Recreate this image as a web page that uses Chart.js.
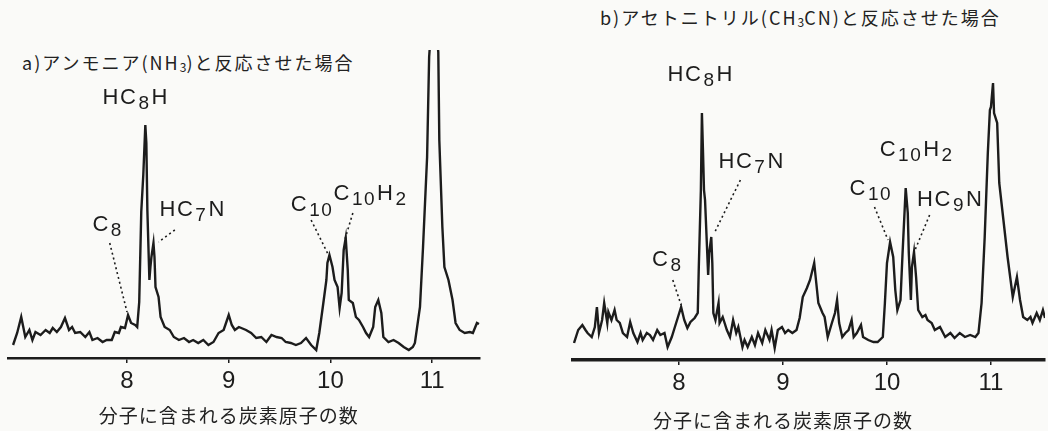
<!DOCTYPE html>
<html>
<head>
  <meta charset="utf-8">
  <title>炭素鎖分子のスペクトル</title>
  <script src="https://cdn.jsdelivr.net/npm/chart.js"></script>
  <style>
    body {
      margin: 0;
      background-color: #fafaf8;
      font-family: "Noto Sans CJK JP", sans-serif;
    }
    .page {
      position: relative;
      width: 1048px;
      height: 431px;
      overflow: hidden;
    }
    .panel {
      position: absolute;
      top: 50px;
      height: 381px;
    }
    .title {
      position: absolute;
      font-size: 18px;
      letter-spacing: 2px;
      color: #222;
      white-space: nowrap;
      line-height: 1;
    }
    .title sub { font-size: 12px; vertical-align: -2px; letter-spacing: 0; }
  </style>
</head>
<body>
<div class="page">
  <div class="title" style="left:22px; top:53px;">a)アンモニア(NH<sub>3</sub>)と反応させた場合</div>
  <div class="title" style="left:600px; top:8px;">b)アセトニトリル(CH<sub>3</sub>CN)と反応させた場合</div>
  <div class="panel" style="left:0; width:490px;"><canvas id="chartA"></canvas></div>
  <div class="panel" style="left:560px; width:488px;"><canvas id="chartB"></canvas></div>
</div>

<script>
// ----- data -----
const carbonTicks = [8, 9, 10, 11];
const axisTitle = "分子に含まれる炭素原子の数";

// a) ammonia
const carbonA = [
  6.88, 6.92, 6.96, 7.00, 7.04, 7.07, 7.10, 7.15, 7.20, 7.24,
  7.27, 7.31, 7.35, 7.39, 7.43, 7.46, 7.49, 7.54, 7.59, 7.63,
  7.66, 7.71, 7.76, 7.80, 7.85, 7.88, 7.92, 7.94, 7.98, 8.01,
  8.04, 8.08, 8.10, 8.12, 8.14, 8.16, 8.18, 8.19, 8.20, 8.22,
  8.23, 8.24, 8.26, 8.27, 8.28, 8.31, 8.33, 8.37, 8.42, 8.46,
  8.51, 8.56, 8.61, 8.65, 8.70, 8.75, 8.80, 8.85, 8.90, 8.95,
  9.00, 9.03, 9.06, 9.10, 9.17, 9.22, 9.27, 9.32, 9.37, 9.42,
  9.47, 9.52, 9.56, 9.61, 9.66, 9.71, 9.76, 9.81, 9.86, 9.89,
  9.93, 9.96, 9.97, 9.99, 10.02, 10.04, 10.07, 10.09, 10.11, 10.13,
  10.15, 10.17, 10.18, 10.22, 10.25, 10.28, 10.32, 10.35, 10.38, 10.42,
  10.44, 10.47, 10.50, 10.52, 10.57, 10.62, 10.67, 10.72, 10.77, 10.81,
  10.83, 10.88, 10.91, 10.95, 10.97, 11.01, 11.06, 11.07, 11.10, 11.12,
  11.16, 11.20, 11.23, 11.27, 11.32, 11.37, 11.40, 11.44, 11.46
];
const signalA = [
  13, 25, 41, 21, 28, 18, 26, 23, 28, 25,
  30, 26, 31, 40, 28, 31, 25, 26, 21, 26,
  18, 20, 16, 18, 18, 26, 25, 31, 30, 43,
  35, 33, 31, 56, 146, 183, 233, 215, 148, 78,
  91, 101, 115, 101, 71, 61, 41, 31, 28, 21,
  18, 20, 16, 18, 15, 18, 13, 16, 25, 28,
  43, 33, 28, 31, 28, 25, 20, 21, 16, 23,
  21, 20, 16, 15, 13, 15, 20, 13, 8, 25,
  55, 78, 95, 103, 91, 78, 71, 50, 65, 108,
  120, 88, 58, 55, 41, 38, 31, 25, 21, 31,
  51, 58, 45, 21, 16, 18, 15, 11, 8, 11,
  15, 51, 111, 201, 301, 360, 306, 218, 131, 91,
  78, 58, 35, 28, 25, 26, 25, 35, 34
];

// b) acetonitrile
const carbonB = [
  6.99, 7.03, 7.07, 7.10, 7.12, 7.16, 7.19, 7.21, 7.23, 7.26,
  7.28, 7.31, 7.32, 7.35, 7.38, 7.40, 7.43, 7.46, 7.50, 7.53,
  7.56, 7.60, 7.63, 7.65, 7.69, 7.72, 7.75, 7.79, 7.82, 7.86,
  7.89, 7.93, 7.96, 7.99, 8.02, 8.05, 8.08, 8.11, 8.15, 8.18,
  8.19, 8.21, 8.22, 8.23, 8.24, 8.25, 8.27, 8.28, 8.29, 8.31,
  8.32, 8.33, 8.35, 8.38, 8.39, 8.42, 8.46, 8.49, 8.52, 8.55,
  8.57, 8.61, 8.63, 8.66, 8.70, 8.73, 8.76, 8.80, 8.83, 8.87,
  8.89, 8.92, 8.95, 8.99, 9.02, 9.05, 9.09, 9.13, 9.16, 9.19,
  9.23, 9.26, 9.30, 9.32, 9.34, 9.38, 9.40, 9.43, 9.47, 9.50,
  9.52, 9.54, 9.57, 9.60, 9.63, 9.66, 9.68, 9.71, 9.75, 9.77,
  9.82, 9.87, 9.91, 9.96, 9.98, 10.00, 10.03, 10.06, 10.08, 10.10,
  10.13, 10.15, 10.17, 10.18, 10.20, 10.21, 10.23, 10.24, 10.26, 10.28,
  10.30, 10.34, 10.37, 10.39, 10.43, 10.46, 10.51, 10.56, 10.61, 10.65,
  10.70, 10.75, 10.80, 10.85, 10.88, 10.91, 10.94, 10.97, 10.99, 11.00,
  11.02, 11.03, 11.06, 11.08, 11.12, 11.16, 11.21, 11.25, 11.28, 11.31,
  11.35, 11.38, 11.40, 11.44, 11.47, 11.50, 11.52
];
const signalB = [
  17, 30, 35, 30, 27, 23, 33, 53, 27, 40,
  57, 37, 48, 40, 50, 40, 37, 27, 23, 38,
  27, 18, 27, 20, 27, 25, 20, 30, 25, 27,
  13, 23, 33, 43, 53, 40, 32, 38, 42, 47,
  93, 170, 247, 210, 170, 160, 110, 85, 107, 123,
  97, 47, 40, 57, 37, 43, 30, 23, 40, 27,
  33, 13, 20, 13, 23, 15, 27, 17, 30, 20,
  30, 12, 30, 33, 27, 30, 27, 30, 42, 63,
  72, 80, 97, 77, 57, 47, 43, 23, 37, 47,
  60, 37, 23, 27, 30, 40, 23, 27, 35, 23,
  20, 18, 18, 23, 57, 97, 118, 103, 70, 50,
  60, 107, 150, 172, 147, 107, 60, 93, 108, 83,
  50, 43, 45, 40, 37, 30, 33, 23, 27, 22,
  27, 23, 25, 23, 27, 57, 123, 207, 250, 253,
  277, 247, 237, 177, 140, 103, 63, 83, 60, 43,
  40, 43, 37, 47, 40, 50, 42
];

// peak labels: text with {subscript}, anchor in data units, optional dotted leader
const labelsA = [
  { text: "HC{8}H", x: 7.76, y: 260 },
  { text: "C{8}", x: 7.66, y: 133, from: [7.83, 115], to: [8.00, 46] },
  { text: "HC{7}N", x: 8.32, y: 148, from: [8.47, 128], to: [8.31, 116] },
  { text: "C{10}", x: 9.61, y: 153, from: [9.81, 138], to: [9.98, 103] },
  { text: "C{10}H{2}", x: 10.03, y: 164, from: [10.22, 145], to: [10.14, 118] }
];
const labelsB = [
  { text: "HC{8}H", x: 7.89, y: 285 },
  { text: "C{8}", x: 7.74, y: 100, from: [7.94, 80], to: [8.02, 55] },
  { text: "HC{7}N", x: 8.38, y: 198, from: [8.59, 180], to: [8.34, 127] },
  { text: "C{10}", x: 9.64, y: 171, from: [9.88, 153], to: [10.01, 120] },
  { text: "C{10}H{2}", x: 9.93, y: 210 },
  { text: "HC{9}N", x: 10.29, y: 160, from: [10.41, 145], to: [10.27, 110] }
];

// ----- drawing helpers -----
const INK = "#1c1c1c";

function drawRich(ctx, text, x, y) {
  const parts = text.split(/(\{[^}]*\})/).filter(p => p.length);
  let cx = x;
  for (const p of parts) {
    const sub = p.startsWith("{");
    const s = sub ? p.slice(1, -1) : p;
    ctx.font = sub ? "19px 'Liberation Sans'" : "22px 'Liberation Sans'";
    ctx.fillText(s, cx, sub ? y + 6 : y);
    cx += ctx.measureText(s).width + 1;
  }
}

const peakLabelPlugin = {
  id: "peakLabels",
  afterDraw(chart, args, opts) {
    const ctx = chart.ctx;
    const xs = chart.scales.x, ys = chart.scales.y;
    ctx.save();
    ctx.fillStyle = INK;
    ctx.strokeStyle = INK;
    ctx.textBaseline = "middle";
    ctx.textAlign = "left";
    ctx.letterSpacing = "1.5px";
    (opts.labels || []).forEach(l => {
      drawRich(ctx, l.text, xs.getPixelForValue(l.x), ys.getPixelForValue(l.y));
      if (l.from) {
        ctx.beginPath();
        ctx.setLineDash([2, 3]);
        ctx.lineWidth = 1.6;
        ctx.moveTo(xs.getPixelForValue(l.from[0]), ys.getPixelForValue(l.from[1]));
        ctx.lineTo(xs.getPixelForValue(l.to[0]), ys.getPixelForValue(l.to[1]));
        ctx.stroke();
        ctx.setLineDash([]);
      }
    });
    // axis title, centred under carbon number 9
    ctx.font = "19px 'Noto Sans CJK JP'";
    ctx.textAlign = "center";
    ctx.letterSpacing = "1px";
    ctx.fillStyle = "#222";
    ctx.fillText(opts.axisTitle, xs.getPixelForValue(opts.titleAt), chart.chartArea.bottom + opts.titleOffset);
    ctx.restore();
  }
};

function makeChart(id, carbon, signal, labels, cfg) {
  const points = carbon.map((c, i) => ({ x: c, y: signal[i] }));
  return new Chart(document.getElementById(id), {
    type: "line",
    data: {
      datasets: [{
        data: points,
        borderColor: INK,
        borderWidth: 2.4,
        pointRadius: 0,
        tension: 0,
        fill: false
      }]
    },
    options: {
      responsive: true,
      maintainAspectRatio: false,
      animation: false,
      layout: { padding: cfg.padding },
      scales: {
        x: {
          type: "linear",
          min: cfg.xMin,
          max: cfg.xMax,
          afterBuildTicks: s => { s.ticks = carbonTicks.map(v => ({ value: v })); },
          afterFit: s => { s.height = cfg.axisHeight; },
          border: { color: INK, width: cfg.axisWidth },
          grid: { drawOnChartArea: false, drawTicks: true, tickLength: 5, color: INK, lineWidth: 1.5 },
          ticks: {
            color: INK,
            padding: 4,
            maxRotation: 0,
            font: { family: "'Liberation Sans'", size: 24 }
          }
        },
        y: { display: false, min: 0, max: cfg.yMax }
      },
      plugins: {
        legend: { display: false },
        tooltip: { enabled: false },
        peakLabels: { labels: labels, axisTitle: axisTitle, titleAt: 9, titleOffset: cfg.titleOffset }
      }
    },
    plugins: [peakLabelPlugin]
  });
}

makeChart("chartA", carbonA, signalA, labelsA, {
  padding: { left: 8, right: 10, top: 0, bottom: 0 },
  xMin: 6.83, xMax: 11.47, yMax: 308, axisHeight: 73, axisWidth: 2.5, titleOffset: 58
});
makeChart("chartB", carbonB, signalB, labelsB, {
  padding: { left: 13, right: 3, top: 0, bottom: 0 },
  xMin: 6.98, xMax: 11.52, yMax: 310, axisHeight: 71, axisWidth: 3.5, titleOffset: 61
});
</script>
</body>
</html>
